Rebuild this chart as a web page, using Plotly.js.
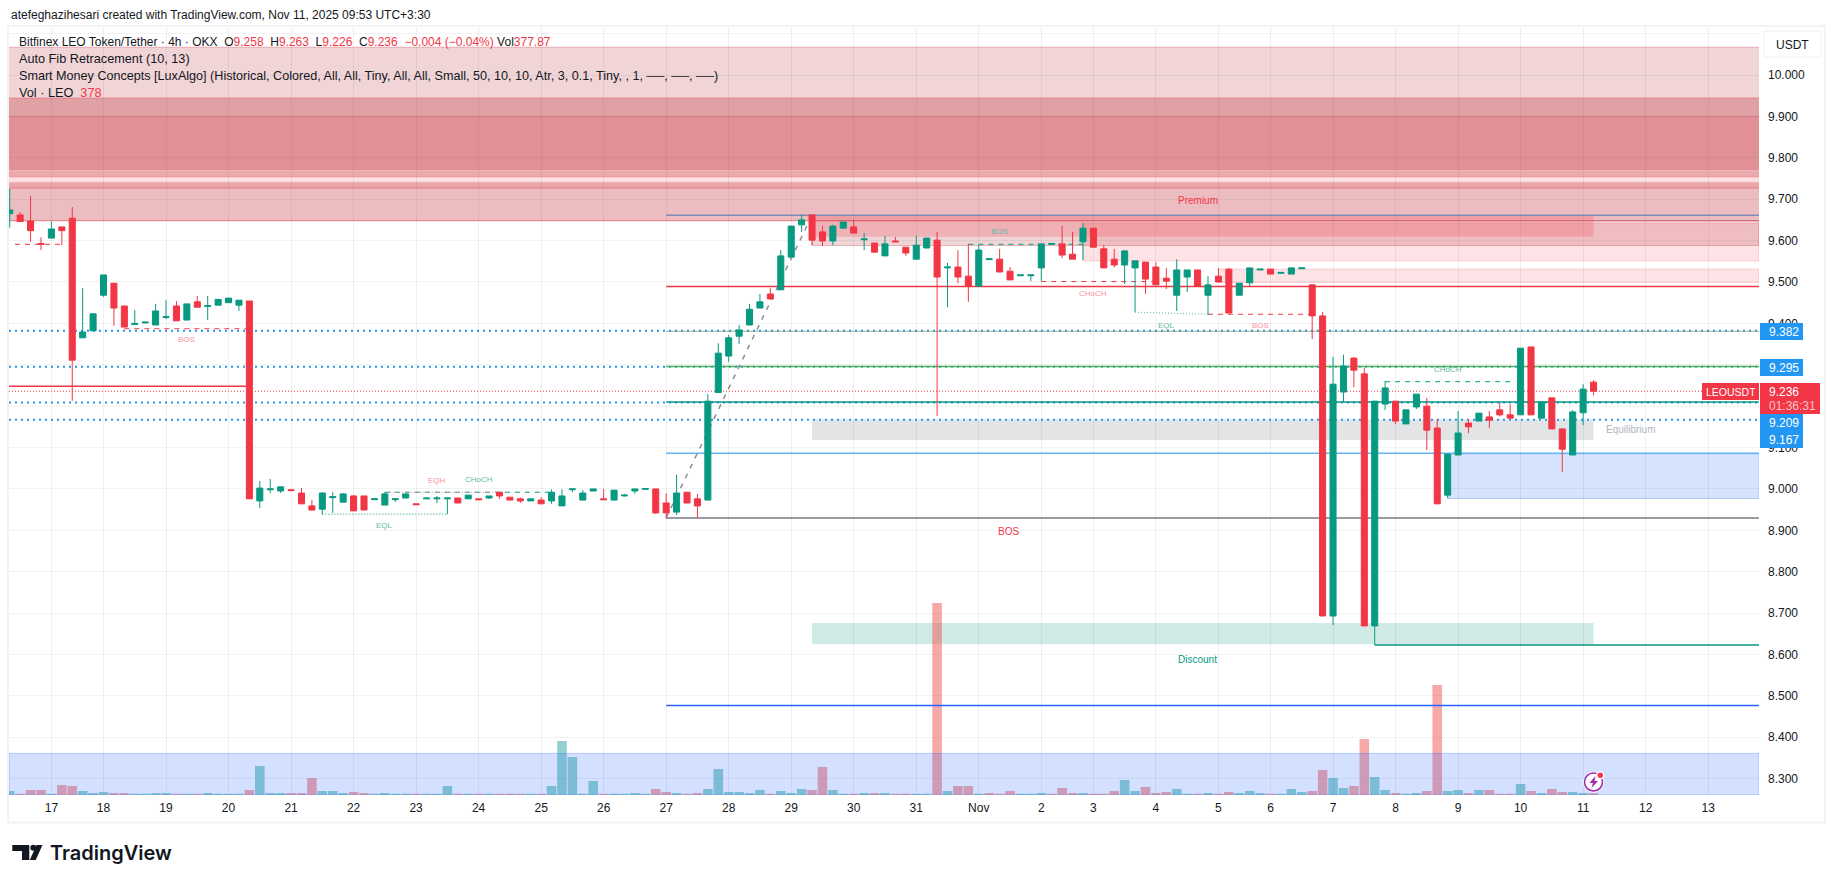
<!DOCTYPE html>
<html>
<head>
<meta charset="utf-8">
<script src="https://cdn.plot.ly/plotly-3.0.1.min.js"></script>
<style>
  html, body { margin: 0; padding: 0; background: #fff; }
</style>
</head>
<body>
<div id="chart"></div>
<script>
// 4h LEOUSDT bars
var opens = [9.665,9.662,9.647,9.593,9.606,9.633,9.654,9.365,9.382,9.468,9.497,9.442,9.397,9.401,9.396,9.414,9.442,9.408,9.452,9.441,
  9.444,9.450,9.444,9.454,8.971,8.998,8.995,8.998,8.990,8.959,8.951,8.979,8.968,8.983,8.983,8.974,8.961,8.974,8.978,8.964,
  8.976,8.976,8.976,8.978,8.976,8.976,8.978,8.992,8.980,8.976,8.971,8.973,8.971,8.959,8.998,8.973,8.995,8.976,8.973,8.983,
  8.995,8.999,9.000,8.966,8.944,8.992,8.976,8.973,9.233,9.321,9.369,9.396,9.437,9.471,9.481,9.560,9.638,9.662,9.621,9.599,
  9.630,9.633,9.602,9.594,9.563,9.599,9.584,9.555,9.582,9.601,9.534,9.536,9.514,9.490,9.554,9.555,9.526,9.515,9.515,9.534,
  9.591,9.592,9.567,9.597,9.630,9.580,9.555,9.541,9.534,9.548,9.536,9.509,9.468,9.512,9.529,9.468,9.514,9.531,9.468,9.498,
  9.529,9.531,9.521,9.519,9.532,9.493,9.418,8.693,9.234,9.316,9.278,8.669,9.205,9.212,9.157,9.198,9.200,9.147,8.985,9.082,
  9.159,9.164,9.174,9.191,9.179,9.179,9.343,9.171,9.220,9.145,9.082,9.184,9.258];
var highs = [9.725,9.669,9.708,9.608,9.646,9.633,9.681,9.485,9.423,9.517,9.497,9.442,9.432,9.403,9.447,9.456,9.454,9.447,9.466,9.466,
  9.458,9.461,9.456,9.454,9.019,9.024,9.005,9.000,9.002,8.973,8.992,8.992,8.990,8.985,8.983,8.976,8.992,8.976,8.988,8.964,
  8.978,8.983,8.978,8.978,8.985,8.976,8.983,8.992,8.980,8.979,8.976,8.980,8.999,8.999,9.000,8.997,9.000,9.000,8.997,8.988,
  9.000,9.001,9.000,8.990,9.034,8.992,8.988,9.229,9.352,9.372,9.396,9.447,9.471,9.485,9.577,9.635,9.662,9.662,9.635,9.638,
  9.645,9.650,9.618,9.594,9.611,9.609,9.584,9.611,9.606,9.621,9.546,9.577,9.592,9.589,9.556,9.580,9.536,9.517,9.517,9.592,
  9.593,9.635,9.621,9.642,9.630,9.589,9.580,9.577,9.551,9.548,9.548,9.534,9.555,9.529,9.529,9.514,9.534,9.534,9.497,9.534,
  9.531,9.531,9.523,9.534,9.534,9.493,9.428,9.319,9.324,9.319,9.292,9.212,9.261,9.212,9.191,9.229,9.220,9.169,9.084,9.188,
  9.169,9.183,9.188,9.208,9.205,9.340,9.343,9.210,9.220,9.145,9.190,9.253,9.263];
var lows = [9.631,9.646,9.597,9.577,9.606,9.589,9.213,9.365,9.382,9.464,9.394,9.391,9.397,9.401,9.396,9.410,9.406,9.408,9.439,9.408,
  9.444,9.450,9.430,8.976,8.954,8.990,8.990,8.996,8.964,8.947,8.938,8.942,8.968,8.947,8.949,8.974,8.961,8.968,8.978,8.962,
  8.976,8.966,8.939,8.966,8.976,8.974,8.976,8.976,8.973,8.966,8.971,8.964,8.964,8.959,8.992,8.973,8.995,8.974,8.973,8.982,
  8.988,8.999,8.939,8.929,8.937,8.966,8.930,8.973,9.233,9.307,9.350,9.396,9.437,9.459,9.481,9.560,9.621,9.589,9.587,9.589,
  9.630,9.618,9.577,9.572,9.563,9.597,9.563,9.555,9.582,9.176,9.439,9.497,9.452,9.490,9.554,9.524,9.505,9.515,9.502,9.502,
  9.591,9.558,9.555,9.553,9.584,9.534,9.535,9.495,9.427,9.471,9.493,9.483,9.430,9.476,9.490,9.420,9.500,9.425,9.468,9.490,
  9.529,9.519,9.521,9.519,9.532,9.362,8.693,8.671,9.210,9.246,8.669,8.623,9.191,9.157,9.157,9.193,9.094,8.964,8.978,9.082,
  9.135,9.164,9.147,9.175,9.168,9.179,9.179,9.171,9.145,9.041,9.082,9.154,9.226];
var closes = [9.674,9.646,9.624,9.591,9.628,9.624,9.311,9.379,9.423,9.517,9.437,9.391,9.400,9.403,9.430,9.416,9.406,9.447,9.439,9.443,
  9.458,9.461,9.456,8.976,9.002,9.000,9.005,8.996,8.964,8.949,8.990,8.981,8.988,8.947,8.949,8.976,8.988,8.976,8.988,8.962,
  8.978,8.978,8.978,8.966,8.985,8.974,8.983,8.983,8.973,8.971,8.976,8.964,8.992,8.983,9.000,8.990,9.000,8.974,8.997,8.985,
  9.000,9.001,8.942,8.942,8.990,8.966,8.959,9.212,9.328,9.365,9.384,9.434,9.452,9.459,9.563,9.635,9.650,9.601,9.599,9.635,
  9.645,9.618,9.604,9.572,9.592,9.597,9.570,9.589,9.606,9.512,9.536,9.512,9.489,9.577,9.556,9.524,9.505,9.517,9.517,9.592,
  9.593,9.565,9.555,9.630,9.584,9.534,9.541,9.575,9.551,9.507,9.493,9.502,9.529,9.529,9.490,9.493,9.500,9.425,9.497,9.534,
  9.531,9.519,9.523,9.534,9.534,9.418,8.693,9.253,9.297,9.287,8.669,9.212,9.244,9.164,9.191,9.229,9.142,8.964,9.084,9.135,
  9.150,9.183,9.166,9.179,9.171,9.340,9.179,9.210,9.145,9.096,9.186,9.241,9.236];

// volume bars, o = up, x = down
var volumes = [800,250,1000,1000,250,2000,1800,800,400,600,400,400,250,250,400,400,250,250,250,400,
  250,250,250,1000,5800,400,400,400,400,3400,800,800,400,600,400,250,400,250,250,250,
  250,250,1800,250,250,250,250,250,250,250,250,250,1800,10800,7600,250,2800,250,250,250,
  400,250,1200,600,400,250,400,1200,5200,600,600,400,1000,250,800,400,1200,1000,5600,1000,
  250,250,400,400,400,250,250,250,250,38400,800,1800,1800,250,400,250,800,250,250,400,
  250,1400,400,400,250,250,800,3000,800,1600,400,600,1200,250,250,400,250,600,400,800,
  400,250,250,1200,600,800,5000,3400,1400,1800,11200,3600,1000,400,250,400,800,22000,800,1000,
  400,1000,1000,250,250,2200,800,400,1200,600,600,400,378];
var volSides = ["o","x","x","x","o","x","x","o","o","o","x","x","o","o","o","o","x","o","x","o",
  "o","o","o","x","o","o","o","x","x","x","o","o","o","x","x","o","o","o","o","x",
  "o","o","o","x","o","x","o","x","x","x","o","x","o","o","o","o","o","x","o","o",
  "o","o","x","x","o","x","x","o","o","o","o","o","o","x","o","o","o","x","x","o",
  "o","x","o","x","o","x","x","o","o","x","o","x","x","o","x","x","x","o","o","o",
  "x","x","x","o","x","x","x","o","o","x","x","x","o","o","x","o","x","x","o","o",
  "o","x","o","o","o","x","x","o","o","x","x","o","o","x","o","o","x","x","o","o",
  "x","o","x","x","x","o","x","o","x","x","o","o","x"];

// time axis: bar index of each day label
var dayBars = [4,9,15,21,27,33,39,45,51,57,63,69,75,81,87,93,99,104,110,116,121,127,133,139,145,151,157,163];
var dayLabels = ["17","18","19","20","21","22","23","24","25","26","27","28","29","30","31","Nov","2","3","4","5","6","7","8","9","10","11","12","13"];
var priceTicks = [8.3,8.4,8.5,8.6,8.7,8.8,8.9,9.0,9.1,9.2,9.3,9.4,9.5,9.6,9.7,9.8,9.9,10.0,10.1];
// 9.200 and 9.300 sit fully behind the price tags, 10.100 behind the USDT button
var priceTickText = ["8.300","8.400","8.500","8.600","8.700","8.800","8.900","9.000","9.100","","","9.400","9.500","9.600","9.700","9.800","9.900","10.000",""];

// auto fib levels
var fibLevels = [9.661,9.489,9.381,9.296,9.210,9.086,8.930,8.477];
var fibColors = ["#7f8ab8","#f23645","#a9ad6e","#4caf50","#089981","#64b5f6","#787b86","#2962ff"];
// alert lines (blue dotted)
var alertLevels = [9.382,9.295,9.209,9.167];
var lastPrice = 9.236;

// supply bands across the whole chart
var bandTops = [10.067,9.944,9.900,9.769,9.754,9.741,9.727];
var bandBots = [9.944,9.900,9.769,9.754,9.741,9.727,9.648];
var bandFills = ["#f0d4d6","#e0a1a5","#e19096","#eba9ac","#fce2e3","#eba6ac","#ecbdc0"];
var bandEdges = ["#e4a9b0","#df7b85","#df7b85","#f1b5b8","#e79097","#f1b5b8","#e27a84"];

// smart money labels
var labelTexts = ["BOS","EQL","CHoCH","EQH","BOS","CHoCH","EQL","BOS","CHoCH","Premium","Discount","Equilibrium","BOS"];
var labelBars = [17,36,45,41,95,104,111,120,138,114,114,155.5,95.9];
var labelPrices = [9.361,8.911,9.022,9.021,9.621,9.473,9.395,9.395,9.289,9.698,8.587,9.143,8.896];
var labelColors = ["#f7929a","#62b8a8","#62b8a8","#f7929a","#62b8a8","#f7929a","#62b8a8","#f7929a","#62b8a8","#f23645","#089981","#b2b5be","#f23645"];
var labelSizes = [8,8,8,8,8,8,8,8,8,10,10,10,10];

var RED = "#f23645", TEAL = "#089981", BLUE = "#2196f3";
var W = 1835, H = 883, ML = 9, MR = 76, MT = 27, MB = 88;
var LAST_X = 167.88;

function px(x) { return (x - ML) / (W - ML - MR); }
function py(y) { return 1 - (y - MT) / (H - MT - MB); }

var xs = opens.map(function(v, i) { return i; });

var candles = {
  type: "candlestick", x: xs, open: opens, high: highs, low: lows, close: closes,
  increasing: { line: { color: TEAL, width: 1 }, fillcolor: TEAL },
  decreasing: { line: { color: RED, width: 1 }, fillcolor: RED },
  hoverinfo: "skip", showlegend: false
};
var vols = {
  type: "bar", x: xs, y: volumes, yaxis: "y2", hoverinfo: "skip", showlegend: false,
  marker: { color: volSides.map(function(s) { return s == "o" ? "rgba(38,166,154,0.5)" : "rgba(239,83,80,0.5)"; }), line: { width: 0 } }
};

function hline(p, from, to, color, width, dash, layer) {
  return { type: "line", xref: "x", yref: "y", x0: from, x1: to, y0: p, y1: p, layer: layer || "below",
    line: { color: color, width: width, dash: dash || "solid" } };
}
function zone(from, to, top, bot, fill, edge, layer) {
  return { type: "rect", xref: "x", yref: "y", x0: from, x1: to, y0: bot, y1: top, layer: layer || "below",
    fillcolor: fill, line: { color: edge || "rgba(0,0,0,0)", width: edge ? 1 : 0 } };
}
function box(x0, y0, x1, y1, fill, edge) {
  return { type: "rect", xref: "paper", yref: "paper", x0: px(x0), x1: px(x1), y0: py(y1), y1: py(y0), layer: "above",
    fillcolor: fill, line: { color: edge || "rgba(0,0,0,0)", width: edge ? 1 : 0 } };
}
function circle(cx, cy, r, fill, edge, ew) {
  return { type: "circle", xref: "paper", yref: "paper", x0: px(cx - r), x1: px(cx + r), y0: py(cy + r), y1: py(cy - r), layer: "above",
    fillcolor: fill, line: { color: edge || "rgba(0,0,0,0)", width: ew || 0 } };
}
function poly(points, fill) {
  var d = points.map(function(p, i) { return (i ? "L" : "M") + px(p[0]) + "," + py(p[1]); }).join(" ") + " Z";
  return { type: "path", xref: "paper", yref: "paper", path: d, fillcolor: fill, layer: "above", line: { width: 0 } };
}

var shapes = [];
// big supply bands
bandTops.forEach(function(t, i) {
  shapes.push(zone(-0.07, LAST_X, t, bandBots[i], bandFills[i]));
  shapes.push(hline(t, -0.07, LAST_X, bandEdges[i], 1));
});
shapes.push(hline(bandBots[6], -0.07, LAST_X, bandEdges[6], 1));
// zones further right
shapes.push(zone(77, LAST_X, 9.648, 9.588, "rgba(178,40,51,0.2)", "rgba(178,40,51,0.3)"));
shapes.push(zone(103, LAST_X, 9.641, 9.551, "rgba(242,54,69,0.14)", "rgba(242,54,69,0.2)"));
shapes.push(zone(116, LAST_X, 9.531, 9.499, "rgba(242,54,69,0.14)", "rgba(242,54,69,0.2)"));
shapes.push(zone(77, 152, 9.661, 9.609, "rgba(242,54,69,0.22)"));
shapes.push(zone(77, 152, 9.168, 9.118, "#e3e4e6"));
shapes.push(zone(77, 152, 8.676, 8.625, "#d0ebe5"));
shapes.push(zone(138, LAST_X, 9.085, 8.977, "#d5e3fd", "#a9c4f5"));
shapes.push(zone(-0.07, LAST_X, 8.361, 8.2605, "rgba(41,98,255,0.2)", "rgba(41,98,255,0.3)", "above"));

// the 0.382 level sits under the blue dots, the others on top of them
shapes.push(hline(fibLevels[2], 63, LAST_X, fibColors[2], 1));
alertLevels.forEach(function(p) { shapes.push(hline(p, -0.07, LAST_X, BLUE, 2, "2px,4px")); });
fibLevels.forEach(function(p, i) {
  if (i == 2) return;
  shapes.push(hline(p, 63, LAST_X, fibColors[i], 1.5, null, i == 7 ? "above" : "below"));
});
shapes.push({ type: "line", xref: "x", yref: "y", x0: 63, x1: 77, y0: 8.93, y1: 9.661, layer: "below",
  line: { color: "#8b8e98", width: 1.5, dash: "5px,6px" } });
shapes.push(hline(lastPrice, -0.07, LAST_X, RED, 1, "1px,2px"));

// structure lines
shapes.push(hline(9.248, -0.07, 23, RED, 1.5));
shapes.push(hline(9.387, 11, 23, RED, 1, "5px,5px"));
shapes.push(hline(9.591, 0.5, 5, RED, 1, "5px,5px"));
shapes.push(hline(8.939, 30, 42, TEAL, 1, "1px,2px"));
shapes.push(hline(8.992, 36, 52, TEAL, 1, "5px,5px"));
shapes.push(hline(8.992, 36.5, 47, "#f7929a", 1, "1px,2px"));
shapes.push(hline(9.591, 92, 103, TEAL, 1, "5px,5px"));
shapes.push(hline(9.501, 99, 110, RED, 1, "5px,5px"));
shapes.push({ type: "line", xref: "x", yref: "y", x0: 108, x1: 115, y0: 9.427, y1: 9.422, layer: "below",
  line: { color: "#62b8a8", width: 1, dash: "1px,2px" } });
shapes.push(hline(9.422, 115, 125, RED, 1, "5px,5px"));
shapes.push(hline(9.259, 132, 144.5, TEAL, 1, "5px,5px"));
shapes.push(hline(8.623, 131, LAST_X, TEAL, 1.5));

// chart frame and currency button
shapes.push({ type: "rect", xref: "paper", yref: "paper", x0: px(8), x1: px(1825), y0: py(822.5), y1: py(26), layer: "below",
  fillcolor: "rgba(0,0,0,0)", line: { color: "#f3f3f3", width: 2 } });
shapes.push({ type: "rect", xref: "paper", yref: "paper", x0: px(1764), x1: px(1821), y0: py(57), y1: py(31), layer: "above",
  fillcolor: "#fff", line: { color: "#f0f1f3", width: 1 } });

// price scale tags
shapes.push(box(1702, 383, 1759, 400, RED));
shapes.push(box(1760, 383, 1820, 414, RED));

// bolt badge
shapes.push(circle(1593.5, 782, 10.5, "#fff"));
shapes.push(circle(1593.5, 782, 9, "#fff", "#9c27b0", 1.5));
shapes.push(poly([[1595.5,776],[1589.5,783],[1593,783],[1591.5,788],[1598,781],[1594.5,781]], "#9c27b0"));
shapes.push(circle(1600.3, 775.3, 4, "#fff"));
shapes.push(circle(1600.3, 775.3, 2.7, RED));

// TradingView mark
shapes.push(poly([[12.3,845],[29.3,845],[29.3,860],[22,860],[22,851],[12.3,851]], "#131722"));
shapes.push(circle(33.3, 847.8, 3, "#131722"));
shapes.push(poly([[36.5,845],[42.5,845],[35.7,860],[29.8,860]], "#131722"));

var FONT = "Liberation Sans";
function note(text, x, y, size, color, extra) {
  var a = { xref: "paper", yref: "paper", x: px(x), y: py(y), text: text, showarrow: false, xanchor: "left", yanchor: "middle",
    borderpad: 0, font: { family: FONT, size: size, color: color } };
  for (var k in extra) a[k] = extra[k];
  return a;
}
function red(s) { return '<span style="color:#f23645">' + s + "</span>"; }

var annotations = [
  note("atefeghazihesari created with TradingView.com, Nov 11, 2025 09:53 UTC+3:30", 10, 15, 12, "#131722"),
  note("Bitfinex LEO Token/Tether · 4h · OKX  O" + red("9.258") + "  H" + red("9.263") + "  L" + red("9.226") + "  C" + red("9.236") + "  " + red("−0.004 (−0.04%)") + " Vol" + red("377.87"), 18, 41.7, 12, "#131722"),
  note("Auto Fib Retracement (10, 13)", 18, 59, 12.7, "#131722"),
  note("Smart Money Concepts [LuxAlgo] (Historical, Colored, All, All, Tiny, All, All, Small, 50, 10, 10, Atr, 3, 0.1, Tiny, , 1, ──, ──, ──)", 18, 76, 12.6, "#131722"),
  note("Vol · LEO  " + red("378"), 18, 92.7, 12.7, "#131722"),
  note("USDT", 1792.5, 44.7, 12, "#131722", { xanchor: "center" }),
  note("LEOUSDT", 1730.5, 391.5, 10.5, "#fff", { xanchor: "center" }),
  note("9.236", 1768, 391.5, 12, "#fff"),
  note("01:36:31", 1768, 406, 12, "#fbc4c9"),
  note("TradingView", 49, 853, 20, "#131722", { font: { family: "Inter", size: 20, color: "#131722", weight: 600 } })
];
// blue alert tags
var tagTops = [323, 359, 414, 431];
var tagTexts = ["9.382", "9.295", "9.209", "9.167"];
tagTexts.forEach(function(t, i) {
  shapes.push(box(1760, tagTops[i], 1803, tagTops[i] + 17, BLUE));
  annotations.push(note(t, 1768, tagTops[i] + 8.5, 12, "#fff"));
});
labelTexts.forEach(function(t, i) {
  annotations.push({ xref: "x", yref: "y", x: labelBars[i], y: labelPrices[i], text: t, showarrow: false,
    font: { family: FONT, size: labelSizes[i], color: labelColors[i] } });
});

var layout = {
  width: W, height: H, margin: { l: ML, r: MR, t: MT, b: MB }, paper_bgcolor: "#fff", plot_bgcolor: "#fff",
  showlegend: false, boxgap: 0.42, boxgroupgap: 0, bargap: 0.08, dragmode: false,
  font: { family: FONT, size: 12, color: "#131722" },
  xaxis: { range: [-0.07, LAST_X], tickmode: "array", tickvals: dayBars, ticktext: dayLabels, gridcolor: "rgba(42,46,57,0.07)", gridwidth: 1,
    zeroline: false, showline: false, ticks: "", ticklabelstandoff: 4, rangeslider: { visible: false }, fixedrange: true, tickfont: { size: 12, color: "#131722" } },
  yaxis: { range: [8.2605, 10.116], side: "right", tickmode: "array", tickvals: priceTicks, ticktext: priceTickText, gridcolor: "rgba(42,46,57,0.06)",
    gridwidth: 1, zeroline: false, showline: false, ticks: "", ticklabelstandoff: 8, fixedrange: true, tickfont: { size: 12, color: "#131722" } },
  yaxis2: { range: [0, 153600], overlaying: "y", visible: false, fixedrange: true },
  shapes: shapes, annotations: annotations
};
Plotly.newPlot("chart", [vols, candles], layout, { displayModeBar: false, staticPlot: true });
</script>
</body>
</html>
